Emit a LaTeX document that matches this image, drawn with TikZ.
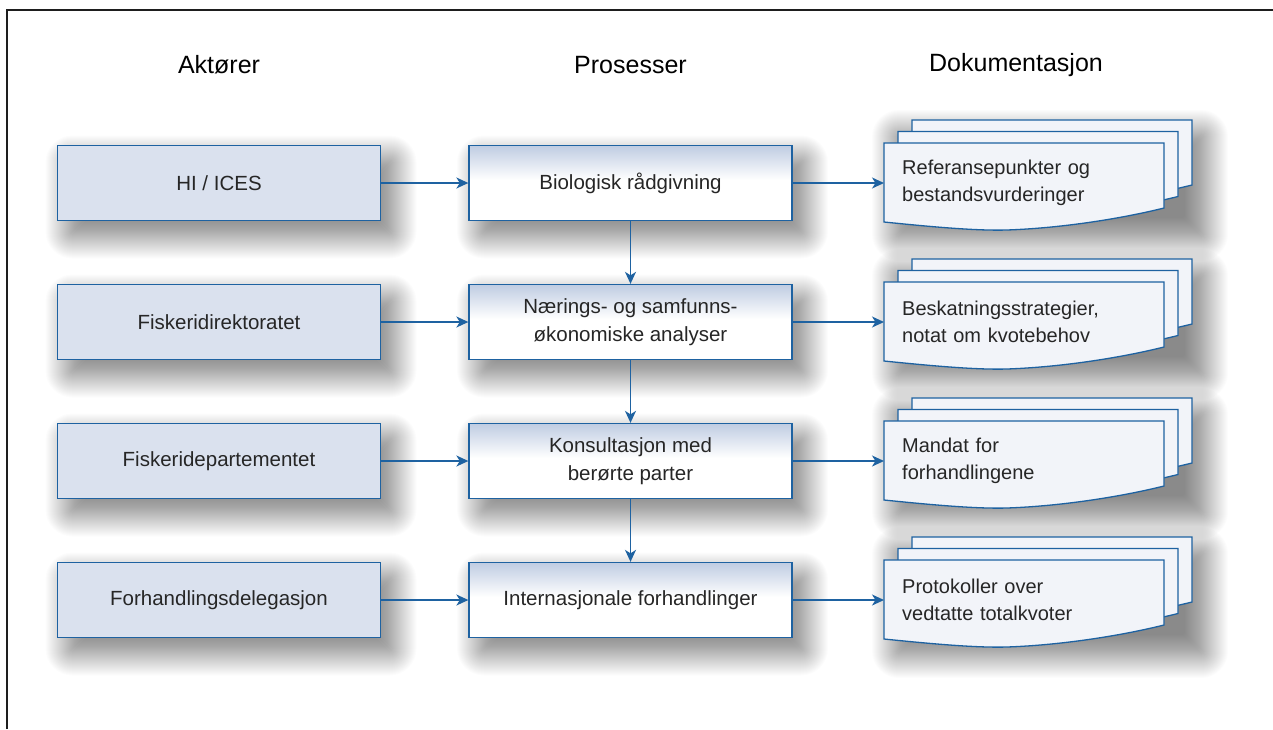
\documentclass[tikz,border=0pt]{standalone}
\usepackage{fontspec}
\setmainfont{Liberation Sans}
\usetikzlibrary{arrows.meta}
\definecolor{bord}{HTML}{1E62A1}
\definecolor{actfill}{HTML}{DAE1EE}
\definecolor{docfill}{HTML}{F2F4F9}
\definecolor{midtop}{HTML}{BFCCE2}
\definecolor{txt}{HTML}{262626}
\definecolor{framec}{HTML}{1E1E1E}
\pgfdeclareverticalshading{procshade}{100bp}{color(0bp)=(white); color(25bp)=(white); color(52bp)=(white); color(75bp)=(midtop); color(100bp)=(midtop)}
\tikzset{
  boxbase/.style={draw=bord, line width=1.3pt, minimum width=323pt, minimum height=75pt, text=txt, align=center, font=\fontsize{20.5}{27.5}\selectfont, inner sep=0pt},
  actor/.style={boxbase, fill=actfill},
  proc/.style={boxbase, shading=procshade},
  docshape/.style={draw=bord, line width=1.3pt, fill=docfill},
  doctext/.style={draw=none, minimum width=280pt, minimum height=79pt, text width=244pt, inner xsep=18pt, inner ysep=0pt, align=left, text=txt, font=\fontsize{20}{27}\selectfont, anchor=north west},
  arr/.style={draw=bord, line width=1.5pt, -{Stealth[length=12pt,width=11pt,inset=3.5pt]}},
  hdr/.style={font=\fontsize{25}{30}\selectfont, text=black}
}
% soft shadow: layered translucent rectangles, offset down-right
\newcommand{\softshadow}[4]{%
  \foreach \k in {0,...,43}{%
    \pgfmathsetmacro{\e}{24-\k}%
    \pgfmathsetmacro{\rc}{max(\e,0)+3}%
    \fill[black, opacity=0.011, rounded corners=\rc pt] ({#1+12-\e},{#2+14-\e}) rectangle ({#3+12+\e},{#4+14+\e});
  }}
\newcommand{\docpath}{(0,0) -- (280,0) -- (280,65) .. controls (240,75) and (180,85) .. (123,87) .. controls (90,88) and (40,83) .. (0,79) -- cycle}
\newcommand{\docstackdraw}[2]{%
  \begin{scope}[shift={(884,#2-40)}]
    \draw[docshape, shift={(28,-23)}] \docpath;
    \draw[docshape, shift={(14,-11.5)}] \docpath;
    \draw[docshape] \docpath;
  \end{scope}
  \node[doctext] (#1) at (884,#2-40) {};
}
\begin{document}
\begin{tikzpicture}[x=1pt,y=-1pt]
\useasboundingbox (0,0) rectangle (1273,729);
\fill[white] (0,0) rectangle (1273,729);
\draw[framec, line width=2.6pt] (7,729) -- (7,10) -- (1273,10);

\node[hdr] (h1) at (219,65) {Aktører};
\node[hdr] (h2) at (630.5,65) {Prosesser};
\node[hdr] (h3) at (1016,65) {Dokumentasjon};

% shadows
\foreach \c in {183,322,461,600}{
  \softshadow{57.5}{\c-37.5}{380.5}{\c+37.5}
  \softshadow{469}{\c-37.5}{792}{\c+37.5}
  \softshadow{884}{\c-63}{1192}{\c+40}
}

% actors
\node[actor] (a1) at (219,183) {HI / ICES};
\node[actor] (a2) at (219,322) {Fiskeridirektoratet};
\node[actor] (a3) at (219,461) {Fiskeridepartementet};
\node[actor] (a4) at (219,600) {Forhandlingsdelegasjon};

% processes
\node[proc] (p1) at (630.5,183) {Biologisk rådgivning};
\node[proc] (p2) at (630.5,322) {Nærings- og samfunns-\\økonomiske analyser};
\node[proc] (p3) at (630.5,461) {Konsultasjon med\\berørte parter};
\node[proc] (p4) at (630.5,600) {Internasjonale forhandlinger};

% documents
\docstackdraw{d1}{183}
\docstackdraw{d2}{322}
\docstackdraw{d3}{461}
\docstackdraw{d4}{600}
\node[doctext] (t1) at (884,143) {Referansepunkter og\\bestandsvurderinger};
\node[doctext] (t2) at (884,282) {Beskatningsstrategier,\\notat om kvotebehov};
\node[doctext] (t3) at (884,421) {Mandat for\\forhandlingene};
\node[doctext] (t4) at (884,560) {Protokoller over\\vedtatte totalkvoter};

% connectors
\foreach \i in {1,2,3,4} {
  \draw[arr] (a\i.east) -- (p\i.west);
  \draw[arr] (p\i.east) -- (p\i.east -| d\i.west);
}
\draw[arr] (p1.south) -- (p2.north);
\draw[arr] (p2.south) -- (p3.north);
\draw[arr] (p3.south) -- (p4.north);
\end{tikzpicture}
\end{document}
